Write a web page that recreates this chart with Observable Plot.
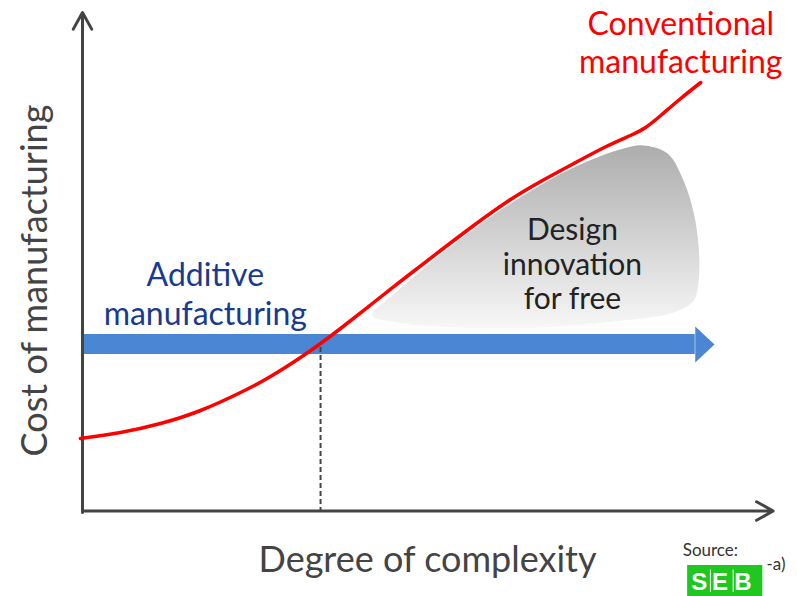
<!DOCTYPE html>
<html>
<head>
<meta charset="utf-8">
<script src="https://cdn.jsdelivr.net/npm/d3@7"></script>
<script src="https://cdn.jsdelivr.net/npm/@observablehq/plot@0.6"></script>
<style>
  html, body { margin: 0; padding: 0; background: #fff; }
  svg { overflow: visible; }
</style>
</head>
<body>
<div id="chart"></div>
<script>
// Conventional manufacturing cost curve (x = complexity, y = cost), 0..100 units
const convX = [-0.3, 5.5, 11.3, 17.1, 22.9, 27.25, 31.6, 34.5, 37.4, 42.2, 47.0, 51.9, 56.7, 61.6, 66.4, 71.2, 75.9, 79.4, 81.6, 83.8, 86.7, 89.6];
const convY = [14.8, 16.0, 17.8, 20.4, 24.0, 27.2, 31.0, 33.8, 36.8, 42.0, 47.2, 52.4, 57.4, 62.2, 66.2, 69.8, 73.2, 75.4, 77.0, 79.4, 82.8, 86.0];

// Additive manufacturing: constant cost level
const additiveLevel = 33.6;
const additiveStart = 0;
const additiveEnd = 91.6;
// break-even complexity
const breakEvenX = 34.5;

// "Design innovation for free" region outline
const regionX = [42.0, 45.4, 51.9, 61.6, 71.2, 78.4, 81.3, 84.8, 87.1, 88.6, 89.3, 89.3, 88.6, 85.7, 78.4, 66.4, 54.3, 44.6];
const regionY = [39.4, 44.0, 51.6, 61.4, 69.0, 72.8, 73.4, 71.8, 66.4, 59.8, 53.0, 46.4, 42.4, 40.0, 38.4, 37.0, 37.0, 38.2];

// Text labels
const labels = [
  {text: "Conventional\nmanufacturing", x: 86.7, y: 94.2, color: "#ff0000", size: 32, lh: 1.19},
  {text: "Additive\nmanufacturing", x: 17.8, y: 43.9, color: "#1a3a8c", size: 32, lh: 1.22},
  {text: "Design\ninnovation\nfor free", x: 71.0, y: 49.8, color: "#222222", size: 30, lh: 1.15}
];
const xTitle = "Degree of complexity";
const yTitle = "Cost of manufacturing";

const conv = convX.map((x, i) => ({x, y: convY[i]}));
const region = regionX.map((x, i) => ({x, y: regionY[i]}));

const bodyHalf = 2.0, headHalf = 3.6, headLen = 2.8;
const arrowBody = [{x1: additiveStart, x2: additiveEnd - headLen, y1: additiveLevel - bodyHalf, y2: additiveLevel + bodyHalf}];
const arrowHead = [
  {x: additiveEnd - headLen, y: additiveLevel + headHalf},
  {x: additiveEnd, y: additiveLevel},
  {x: additiveEnd - headLen, y: additiveLevel - headHalf}
];

const defs = () => {
  const d = d3.create("svg:defs");
  const g = d.append("linearGradient").attr("id", "greyGrad").attr("x1", 0).attr("y1", 0).attr("x2", 0).attr("y2", 1);
  g.append("stop").attr("offset", "0%").attr("stop-color", "#adadad");
  g.append("stop").attr("offset", "100%").attr("stop-color", "#f7f7f7");
  return d.node();
};

const chart = Plot.plot({
  width: 797,
  height: 596,
  marginLeft: 82,
  marginRight: 25,
  marginTop: 12,
  marginBottom: 84,
  x: {domain: [0, 100], axis: null},
  y: {domain: [0, 100], axis: null},
  style: {fontFamily: "Lato, 'Open Sans', sans-serif", background: "#fff"},
  marks: [
    defs,
    // grey region
    Plot.line(region, {x: "x", y: "y", curve: "catmull-rom-closed", fill: "url(#greyGrad)", stroke: "none"}),
    // additive arrow
    Plot.rect(arrowBody, {x1: "x1", x2: "x2", y1: "y1", y2: "y2", fill: "#4a86d4"}),
    Plot.line(arrowHead, {x: "x", y: "y", fill: "#4a86d4", stroke: "none"}),
    // break-even dashed line
    Plot.ruleX([breakEvenX], {y1: 0, y2: additiveLevel, stroke: "#444", strokeWidth: 2, strokeDasharray: "5,3"}),
    // axes
    Plot.arrow([{x1: 0, y1: 0, x2: 0, y2: 100}], {x1: "x1", y1: "y1", x2: "x2", y2: "y2", stroke: "#444", strokeWidth: 3, headLength: 9.5, headAngle: 58}),
    Plot.arrow([{x1: 0, y1: 0.3, x2: 100.1, y2: 0.3}], {x1: "x1", y1: "y1", x2: "x2", y2: "y2", stroke: "#444", strokeWidth: 3, headLength: 9.5, headAngle: 58}),
    // conventional curve
    Plot.line(conv, {x: "x", y: "y", curve: "natural", stroke: "#ff0000", strokeWidth: 3.5}),
    // labels
    ...labels.map(l => Plot.text([l], {x: "x", y: "y", text: "text", fill: l.color, fontSize: l.size, lineHeight: l.lh})),
    Plot.text([xTitle], {x: 50, y: -9.6, text: d => d, fill: "#444", fontSize: 36}),
    Plot.text([yTitle], {x: -6.8, y: 46.4, text: d => d, fill: "#444", fontSize: 36, rotate: -90}),
    // source + logo
    Plot.text(["Source:"], {x: 91.0, y: -7.6, text: d => d, fill: "#333", fontSize: 17}),
    Plot.rect([{x1: 87.7, x2: 98.6, y1: -16.8, y2: -10.6}], {x1: "x1", x2: "x2", y1: "y1", y2: "y2", fill: "#1ec81e"}),
    Plot.text(["S", "E", "B"], {x: (d, i) => [89.4, 92.4, 95.7][i], y: -13.9, text: d => d, fill: "#fff", fontSize: 24, fontWeight: "bold", fontFamily: "Arial, 'Liberation Sans', sans-serif"}),
    Plot.ruleX([91.0, 94.3], {y1: -16.0, y2: -11.5, stroke: "#fff", strokeWidth: 1}),
    Plot.text(["-a)"], {x: 100.5, y: -10.4, text: d => d, fill: "#333", fontSize: 17})
  ]
});
document.getElementById("chart").append(chart);
</script>
</body>
</html>
